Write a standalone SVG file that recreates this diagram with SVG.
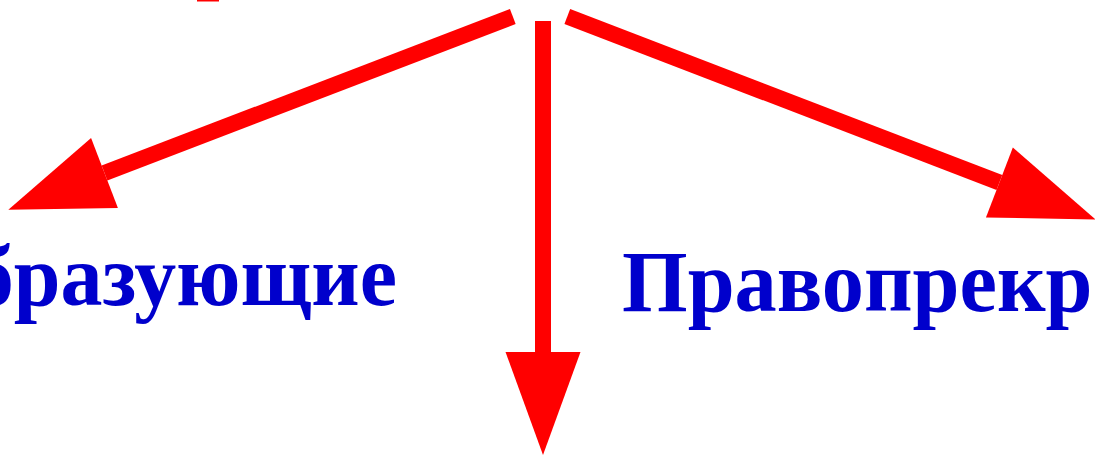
<svg xmlns="http://www.w3.org/2000/svg" width="1095" height="455" viewBox="0 0 1095 455">
  <defs>
    <marker id="head" markerUnits="userSpaceOnUse" markerWidth="103" markerHeight="76" refX="0" refY="37.5" orient="auto" overflow="visible">
      <path d="M0,0 L103,37.5 L0,75 Z" fill="#ff0000"/>
    </marker>
    <style>
      .conn { stroke: #ff0000; stroke-width: 16; fill: none; stroke-linecap: butt; marker-end: url(#head); }
      .lbl { font-family: "Liberation Serif", "Times New Roman", serif; font-weight: bold; font-size: 87px; fill: #0000cc; }
    </style>
  </defs>
  <rect width="1095" height="455" fill="#ffffff"/>
  <rect x="197" y="0" width="22" height="1.5" fill="#ff0000"/>
  <g id="connectors">
    <line class="conn" x1="512.8" y1="16.5" x2="104.5" y2="173"/>
    <line class="conn" x1="543" y1="21" x2="543" y2="352"/>
    <line class="conn" x1="567.3" y1="16.5" x2="999.4" y2="182.5"/>
  </g>
  <g id="node-left">
    <text class="lbl" transform="translate(397,305) scale(0.965,1)" x="0" y="0" text-anchor="end">бразующие</text>
  </g>
  <g id="node-right">
    <text class="lbl" transform="translate(622,310.5) scale(0.97,1)" x="0" y="0">Правопрекр</text>
  </g>
</svg>
